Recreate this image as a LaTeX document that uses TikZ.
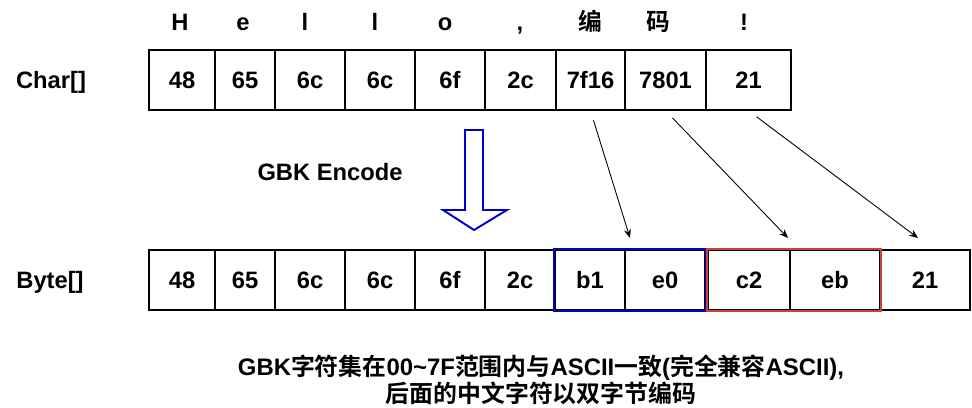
\documentclass[tikz,border=0pt]{standalone}
\usepackage{fontspec}
\setmainfont{Liberation Sans}
\newfontfamily\cjk{Noto Sans CJK SC}[BoldFont={Noto Sans CJK SC Bold}]
\usepackage{tikz}
\usepackage{xcolor}
\usetikzlibrary{arrows.meta, positioning, calc}

\definecolor{gbkblue}{RGB}{0,0,200}
\definecolor{gbkred}{RGB}{208,64,64}

\tikzset{
    cell/.style={draw, line width=0.8pt, minimum height=1.2cm, inner sep=0pt, text height=9.7pt, text depth=0pt, font=\bfseries\fontsize{13.5}{16}\selectfont},
    label/.style={inner sep=0pt, text height=9.7pt, text depth=0pt, font=\bfseries\fontsize{13.5}{16}\selectfont},
    link/.style={-{Stealth[length=5pt, width=4pt]}, line width=0.5pt, shorten <=0.2cm}
}

\begin{document}
\begin{tikzpicture}[x=0.02cm, y=-0.02cm]
    \useasboundingbox (0, 0) rectangle (972, 408);

    % Row labels
    \node[label] (charlbl) at (51, 80) {Char[]};
    \node[label] (bytelbl) at (50, 280) {Byte[]};

    % Characters
    \node[label] (l1) at (180, 22) {H};
    \node[label] (l2) at (243, 22) {e};
    \node[label] (l3) at (305, 22) {l};
    \node[label] (l4) at (375, 22) {l};
    \node[label] (l5) at (445, 22) {o};
    \node[label] (l6) at (520, 22) {,};
    \node[label] (l7) at (590, 22) {\cjk 编};
    \node[label] (l8) at (658, 22) {\cjk 码};
    \node[label] (l9) at (744, 22) {!};

    % Char[] cells
    \node[cell, minimum width=1.32cm] (c1) at (182, 80) {48};
    \node[cell, minimum width=1.2cm] (c2) at (245, 80) {65};
    \node[cell, minimum width=1.4cm] (c3) at (310, 80) {6c};
    \node[cell, minimum width=1.4cm] (c4) at (380, 80) {6c};
    \node[cell, minimum width=1.4cm] (c5) at (450, 80) {6f};
    \node[cell, minimum width=1.42cm] (c6) at (520.5, 80) {2c};
    \node[cell, minimum width=1.38cm] (c7) at (590.5, 80) {7f16};
    \node[cell, minimum width=1.62cm] (c8) at (665.5, 80) {7801};
    \node[cell, minimum width=1.7cm] (c9) at (748.5, 80) {21};

    % Encode arrow
    \node[label] (enc) at (330, 172) {GBK Encode};
    \draw[gbkblue, line width=1.1pt] (465, 130) -- (483, 130) -- (483, 210) -- (507, 210)
        -- (474, 230) -- (443, 210) -- (465, 210) -- cycle;

    % Byte[] cells
    \node[cell, minimum width=1.32cm] (b1) at (182, 280) {48};
    \node[cell, minimum width=1.2cm] (b2) at (245, 280) {65};
    \node[cell, minimum width=1.4cm] (b3) at (310, 280) {6c};
    \node[cell, minimum width=1.4cm] (b4) at (380, 280) {6c};
    \node[cell, minimum width=1.4cm] (b5) at (450, 280) {6f};
    \node[cell, minimum width=1.4cm] (b6) at (520, 280) {2c};
    \node[cell, minimum width=1.4cm] (b7) at (590, 280) {b1};
    \node[cell, minimum width=1.6cm] (b8) at (665, 280) {e0};
    \node[cell, minimum width=1.64cm] (b9) at (749, 280) {c2};
    \node[cell, minimum width=1.8cm] (b10) at (835, 280) {eb};
    \node[cell, minimum width=1.8cm] (b11) at (925, 280) {21};

    % Double-byte groups
    \draw[gbkblue, line width=1.1pt] (b7.north west) rectangle (b8.south east);
    \draw[gbkred, line width=1.1pt] (b9.north west) rectangle (b10.south east);

    % Mapping arrows
    \coordinate (blueend) at (630, 238);
    \coordinate (redend) at (788, 238);
    \coordinate (lastend) at (918, 238);
    \draw[link] (c7.south) -- (blueend);
    \draw[link] (c8.south) -- (redend);
    \draw[link] (c9.south) -- (lastend);

    % Note
    \node[align=center, font=\bfseries\fontsize{13.6}{14.2}\selectfont] (note) at (541, 380)
        {GBK{\cjk 字符集在}00\textasciitilde 7F{\cjk 范围内与}ASCII{\cjk 一致}({\cjk 完全兼容}ASCII),\\
         {\cjk 后面的中文字符以双字节编码}};

\end{tikzpicture}
\end{document}
